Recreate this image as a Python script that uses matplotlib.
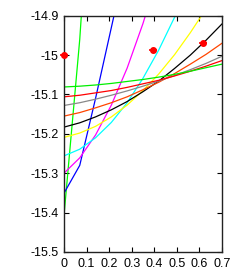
import matplotlib
matplotlib.use("Agg")
import matplotlib.pyplot as plt
from matplotlib.ticker import FuncFormatter

plt.rcParams["font.family"] = ["Liberation Sans", "DejaVu Sans"]
plt.rcParams["axes.unicode_minus"] = False

# sample positions of the curves
x = [0.0, 0.07, 0.14, 0.21, 0.28, 0.35, 0.42, 0.49, 0.56, 0.63, 0.70]

# curves, values (parts above -14.9 are clipped)
green_steep = [-15.409, -14.96, -14.36]
blue = [-15.351, -15.28, -15.11, -14.93, -14.75]
magenta = [-15.300, -15.261, -15.203, -15.127, -15.033, -14.920, -14.790]
cyan = [-15.256, -15.239, -15.210, -15.171, -15.121, -15.059, -14.987, -14.904, -14.810]
yellow = [-15.209, -15.198, -15.181, -15.157, -15.127, -15.090, -15.048, -14.999, -14.943,
          -14.882, -14.814]
black = [-15.183, -15.172, -15.157, -15.139, -15.118, -15.093, -15.066, -15.034, -15.000,
         -14.962, -14.921]
orange = [-15.155, -15.146, -15.134, -15.121, -15.106, -15.088, -15.069, -15.047, -15.023,
          -14.998, -14.970]
gray = [-15.128, -15.121, -15.112, -15.102, -15.091, -15.079, -15.066, -15.052, -15.037,
        -15.021, -15.003]
red = [-15.106, -15.102, -15.096, -15.090, -15.082, -15.073, -15.064, -15.053, -15.041,
       -15.028, -15.014]
green_flat = [-15.081, -15.079, -15.076, -15.072, -15.067, -15.062, -15.056, -15.049, -15.041,
              -15.032, -15.023]

# reference points
pts_x = [0.0, 0.393, 0.614]
pts_y = [-15.000, -14.987, -14.970]

curves = [
    (green_steep, "#00ff00"),
    (blue, "#0000ff"),
    (magenta, "#ff00ff"),
    (cyan, "#00ffff"),
    (yellow, "#ffff00"),
    (black, "#000000"),
    (orange, "#ff4500"),
    (gray, "#888888"),
    (red, "#ff0000"),
    (green_flat, "#00ee00"),
]

fig = plt.figure(figsize=(2.45, 2.8), dpi=100)
ax = fig.add_axes([0.261, 0.1, 0.645, 0.844])

for ys, col in curves:
    ax.plot(x[:len(ys)], ys, color=col, lw=0.9)

ax.plot(pts_x, pts_y, "o", color="#ff0000", ms=4, mec="#ff0000", clip_on=False, zorder=5)
ax.plot(pts_x, pts_y, "_", color="#ff0000", ms=6, mew=1.2, clip_on=False, zorder=5)

ax.set_xlim(0, 0.7)
ax.set_ylim(-15.5, -14.9)
ax.set_xticks([0, 0.1, 0.2, 0.3, 0.4, 0.5, 0.6, 0.7])
ax.set_yticks([-15.5, -15.4, -15.3, -15.2, -15.1, -15.0, -14.9])
ax.xaxis.set_major_formatter(FuncFormatter(lambda v, p: "%g" % round(v, 3)))
ax.yaxis.set_major_formatter(FuncFormatter(lambda v, p: "%g" % round(v, 3)))
ax.tick_params(direction="in", length=3.5, width=0.8, top=True, right=True,
               labelsize=9, colors="black", pad=4)
for s in ax.spines.values():
    s.set_linewidth(1.0)
    s.set_color("#222222")

fig.savefig("out.png", dpi=100)
